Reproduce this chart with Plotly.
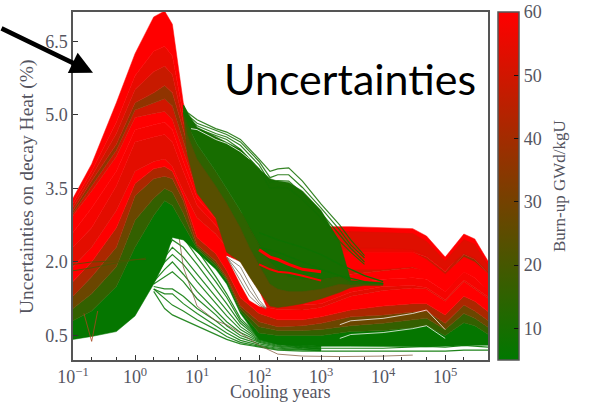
import plotly.graph_objects as go

# ---------------- data ----------------
years = [0.1,0.2,0.5,1,2,3,4,6,10,20,30,50,100,200,500,1000,3000,1e4,3e4,5e4,1e5,2e5,3e5,5e5]
s0  = [.42,.48,.58,.9,1.55,2.0,2.5,2.45,2.2,1.85,1.55,.95,.42,.32,.3,.28,.28,.27,.27,.27,.28,.3,.3,.3]
s1  = [.8,1.0,1.5,2.3,2.95,3.25,3.15,2.75,2.27,1.92,1.62,1.0,.55,.5,.5,.5,.58,.6,.66,.7,.5,.76,.7,.52]
s1b = [1.05,1.35,1.9,2.85,3.3,3.5,3.42,3.0,2.31,1.97,1.66,1.05,.68,.6,.6,.62,.7,.75,.82,.85,.62,.95,.85,.66]
s2  = [1.3,1.7,2.3,3.35,3.7,3.75,3.7,3.25,2.35,2.02,1.7,1.1,.78,.68,.7,.75,.88,.92,.98,1.0,.75,1.12,1.0,.8]
s2b = [1.6,2.0,2.7,3.6,3.9,3.95,3.85,3.35,2.5,2.17,1.82,1.27,.95,.82,.82,.88,1.02,1.1,1.15,1.15,.92,1.3,1.2,.98]
s3  = [1.9,2.3,3.05,3.85,4.05,4.1,3.95,3.45,2.9,2.57,2.3,1.6,1.1,1.03,1.02,1.07,1.3,1.42,1.47,1.45,1.2,1.6,1.45,1.25]
s4  = [2.3,2.7,3.55,4.45,4.55,4.6,4.45,3.85,3.15,2.75,2.45,1.8,1.25,1.12,1.12,1.15,1.38,1.5,1.52,1.48,1.23,1.63,1.48,1.28]
s4b = [2.6,3.1,3.85,4.7,4.8,4.85,4.7,4.05,3.3,2.88,2.58,1.95,1.42,1.3,1.3,1.35,1.55,1.65,1.68,1.65,1.4,1.8,1.68,1.42]
s5  = [2.95,3.45,4.15,4.95,5.03,5.07,4.9,4.25,3.45,3.0,2.7,2.1,1.6,1.5,1.55,1.65,1.75,1.82,1.88,1.82,1.58,1.98,1.88,1.58]
s5b = [3.0,3.55,4.28,5.1,5.25,5.33,5.18,4.48,3.58,3.1,2.8,2.22,1.8,1.68,1.7,1.78,1.92,1.98,2.0,1.92,1.65,2.08,1.97,1.68]
s6  = [3.05,3.65,4.4,5.25,5.45,5.6,5.45,4.7,3.7,3.2,2.9,2.35,2.0,1.85,1.85,1.9,2.1,2.1,2.1,2.0,1.7,2.15,2.05,1.75]
s6b = [3.12,3.75,4.62,5.52,5.88,6.0,5.82,4.85,3.85,3.3,3.0,2.48,2.15,2.02,2.02,2.08,2.2,2.2,2.2,2.1,1.8,2.25,2.15,1.8]
s7  = [3.2,3.85,4.85,5.8,6.3,6.4,6.2,5.0,4.0,3.4,3.1,2.6,2.3,2.2,2.2,2.25,2.3,2.3,2.3,2.2,1.9,2.35,2.25,1.85]
s8  = [3.3,4.0,5.25,6.25,7.0,7.12,6.85,5.25,4.2,3.6,3.3,3.0,2.85,2.8,2.75,2.72,2.72,2.7,2.68,2.53,2.1,2.57,2.47,2.0]
burnup_stack = [6,16,28,42,60,54,58,60,50,36,48,55,60]

plateau_years = [1000,3000,1e4,3e4,5e4,1e5,2e5,3e5,5e5]
plateau_low  = [1.85,1.85,1.85,1.9,1.8,1.4,1.8,1.7,1.4]
plateau_high = [2.2,2.2,2.2,2.2,2.05,1.75,2.1,2.0,1.75]
plateau_dark_low  = [2.28,2.28,2.28,2.25,2.12,1.85,2.18,2.08,1.8]
plateau_dark_high = [2.62,2.62,2.6,2.58,2.42,2.02,2.46,2.36,1.92]

hump_years = [6,7,10,20,30,50,70,100,150,200,300,500,1000,2000,3000,5000,1e4]
g_bot  = [5.0,4.2,3.4,2.9,2.2,2.0,1.7,1.4,1.1,1.07,1.1,1.15,1.25,1.38,1.48,1.52,1.52]
g_mid1 = [5.05,4.6,4.1,3.55,3.2,2.7,2.3,1.95,1.55,1.45,1.4,1.4,1.45,1.55,1.53,1.54,1.54]
g_mid2 = [5.1,4.8,4.4,3.85,3.5,3.05,2.7,2.35,2.0,1.85,1.7,1.65,1.65,1.7,1.58,1.57,1.56]
g_top  = [5.2,5.05,4.75,4.55,4.45,4.3,4.1,3.9,3.7,3.65,3.62,3.45,3.05,2.4,1.62,1.6,1.57]
burnup_hump = [24,15,10]

hole_years = [30,50,70,100,130]
hole_low  = [2.12,1.55,1.22,1.1,1.07]
hole_high = [2.12,2.0,1.7,1.4,1.08]
hole_lines = [[2.1,1.9,1.55,1.22,1.06],[2.1,1.75,1.42,1.16,1.05],[2.1,1.6,1.3,1.12,1.04]]

outer_years = [6,7,10,20,30,50,100,150,200,300,500,1000,2000,3000,5000]
outer_lines = [
    [5.2,5.05,4.9,4.72,4.65,4.5,4.1,3.85,3.9,3.92,3.65,3.18,2.75,2.45,2.13],
    [5.15,5.0,4.83,4.68,4.6,4.45,4.05,3.72,3.78,3.78,3.52,3.1,2.65,2.35,2.08],
    [5.1,4.95,4.78,4.62,4.55,4.38,3.98,3.62,3.66,3.65,3.4,3.0,2.55,2.28,2.0],
    [5.05,4.9,4.72,4.58,4.5,4.3,3.9,3.5,3.52,3.5,3.28,2.9,2.42,2.2,1.95],
]

low_years = [2,3,4,6,10,20,30,50,100,200,500,1000]
low_lines = [
    [1.4,1.05,.92,.82,.7,.52,.42,.33,.26,.2,.18,.18],
    [1.45,1.25,1.12,1.0,.82,.62,.48,.36,.28,.22,.2,.19],
    [1.45,1.35,1.35,1.15,.95,.7,.55,.4,.3,.24,.22,.2],
    [1.5,1.45,1.45,1.3,1.05,.8,.62,.45,.33,.26,.23,.22],
    [1.55,1.7,1.8,1.6,1.25,.92,.7,.5,.36,.28,.24,.22],
    [1.6,1.85,2.0,1.75,1.4,1.0,.78,.56,.38,.3,.25,.23],
    [1.65,2.0,2.15,1.95,1.6,1.15,.9,.62,.4,.32,.26,.24],
    [1.7,2.1,2.3,2.1,1.75,1.3,1.02,.68,.42,.33,.27,.25],
    [1.75,2.2,2.45,2.3,1.95,1.45,1.15,.75,.44,.34,.28,.26],
    [1.8,2.3,2.65,2.5,2.1,1.6,1.28,.8,.46,.35,.29,.27],
    [1.85,2.4,2.85,2.65,2.25,1.7,1.35,.85,.48,.36,.3,.28],
]
bottom_years = [1000,1e4,5e4,1e5,2e5,5e5]
bottom_lines = [[.18,.18,.18,.18,.2,.2],[.24,.24,.28,.26,.3,.26]]
brown_years = [5,6,10,20,30,50,100,200,500,2000,1e4,3e4]
brown_line = [2.6,1.9,1.1,.8,.72,.55,.3,.12,.08,.07,.08,.1]

streak_years = [100,150,200,300,500,1000]
streak_a = [2.25,2.1,2.05,1.95,1.85,1.8]
streak_b = [1.95,1.85,1.8,1.78,1.72,1.62]

tail_years = [100,200,500,1000,2000,5000,1e4]
tail_lines = [[2.6,2.45,2.3,2.15,1.95,1.72,1.6],[2.3,2.2,2.0,1.85,1.72,1.6,1.56]]

white_years = [2000,3000,1e4,3e4,5e4,1e5]
white_lines = [[.72,.8,.85,.95,1.02,.62],[.44,.52,.56,.64,.7,.44]]
white_hump_years = [8,10,20,30,50,70]
white_hump = [4.72,4.7,4.5,4.42,4.25,4.1]

cross_years = [.1,.2,.5,1,1.5]
cross_a = [1.95,2.0,2.02,2.05,2.05]
cross_b = [1.82,1.88,1.98,2.05,2.08]

spike_years = [.15,.2,.25]
spike = [.95,.38,1.0]

cbar_values = [5,60]
y_ticks = [.5,2,3.5,5,6.5]
y_labels = ["0.5","2.0","3.5","5.0","6.5"]
x_ticks = [.1,1,10,100,1e3,1e4,1e5]
x_labels = ["10<sup>−1</sup>","10<sup>0</sup>","10<sup>1</sup>","10<sup>2</sup>","10<sup>3</sup>","10<sup>4</sup>","10<sup>5</sup>"]
x_minor = [m*10**e for e in range(-1,6) for m in (2,5)]

# ---------------- style ----------------
SERIF = "Liberation Serif"
TXT = "#55555f"
def col(b, a=1):
    t = (b-5)/55
    return f"rgba({round(255*t)},{round(120*(1-t))},0,{a})"

fig = go.Figure()
def band(x, lo, hi, b, c=None):
    c = c or col(b)
    fig.add_trace(go.Scatter(x=x, y=lo, mode="lines", line=dict(color=c, width=.5), showlegend=False, hoverinfo="skip"))
    fig.add_trace(go.Scatter(x=x, y=hi, mode="lines", line=dict(color=c, width=.5), fill="tonexty", fillcolor=c, showlegend=False, hoverinfo="skip"))
def line(x, y, c, w=1.0):
    fig.add_trace(go.Scatter(x=x, y=y, mode="lines", line=dict(color=c, width=w), showlegend=False, hoverinfo="skip"))

# thin lines under the mass
for l in low_lines:
    line(low_years, l, col(6,.85), 1.2)
line(brown_years, brown_line, "rgba(130,90,60,.75)", 1)
for l in bottom_lines:
    line(bottom_years, l, col(6,.9), 1.2)

# main stack
stack = [s0,s1,s1b,s2,s2b,s3,s4,s4b,s5,s5b,s6,s6b,s7,s8]
for i, b in enumerate(burnup_stack):
    band(years, stack[i], stack[i+1], b)
band(plateau_years, plateau_low, plateau_high, 60)
band(plateau_years, plateau_dark_low, plateau_dark_high, 53)
line(cross_years, cross_a, col(22,.8), 1)
line(cross_years, cross_b, col(20,.8), 1)
line(spike_years, spike, "rgba(170,70,30,.8)", 1)
for l in white_lines:
    line(white_years, l, "rgba(255,255,255,.75)", 1)

# white gap and its few lines
band(hole_years, hole_low, hole_high, 5, "white")
for l in hole_lines:
    line(hole_years, l, "rgba(120,110,90,.8)", 1)

# low burn-up hump
for lo, hi, b in zip([g_bot,g_mid1,g_mid2],[g_mid1,g_mid2,g_top],burnup_hump):
    band(hump_years, lo, hi, b)
line(streak_years, streak_a, "#ff0000", 3)
line(streak_years, streak_b, "#ff0000", 2)
for l in tail_lines:
    line(tail_years, l, col(8), 1.3)
for l in outer_lines:
    line(outer_years, l, col(9,.85), 1.2)
line(white_hump_years, white_hump, "rgba(255,255,255,.8)", 1)

# colour bar
fig.add_trace(go.Scatter(x=[1,1], y=[-5,-5], mode="markers", showlegend=False, hoverinfo="skip",
    marker=dict(color=cbar_values, cmin=5, cmax=60,
        colorscale=[[0,col(5)],[1,col(60)]],
        colorbar=dict(x=1.024, xanchor="left", xpad=0, ypad=0, y=0, yanchor="bottom", len=1, thickness=21,
            outlinecolor="#555", outlinewidth=1.5, tickvals=[10,20,30,40,50,60],
            ticks="inside", ticklen=5, tickcolor="#111", tickfont=dict(family=SERIF, size=18, color=TXT)))))

axis = dict(showgrid=False, zeroline=False, showline=True, linecolor="#555", linewidth=1.5, mirror=True,
            ticks="inside", tickcolor="#333", ticklen=5, tickfont=dict(family=SERIF, size=18, color=TXT))
fig.update_layout(
    width=590, height=404, margin=dict(l=73, r=102, t=10, b=44),
    paper_bgcolor="white", plot_bgcolor="white",
    xaxis=dict(axis, type="log", range=[-1,5.69], tickmode="array", tickvals=x_ticks, ticktext=x_labels,
               minor=dict(tickmode="array", tickvals=x_minor, ticks="inside", ticklen=3, tickcolor="#333")),
    yaxis=dict(axis, range=[0,7.1], tickmode="array", tickvals=y_ticks, ticktext=y_labels),
)
def px(x,y): return (x-73)/415, (360-y)/350
def label(text, x, y, font, size, color="black", angle=0):
    xx, yy = px(x, y)
    fig.add_annotation(text=text, x=xx, y=yy, xref="paper", yref="paper", showarrow=False, xanchor="center", yanchor="middle",
                       textangle=angle, font=dict(family=font, size=size, color=color))
label("Uncertainties", 350, 77, "Lato", 43)
label("Cooling years", 280, 392, SERIF, 18, TXT)
label("Uncertainties on decay Heat (%)", 27, 186, SERIF, 19.5, TXT, -90)
label("Burn-up GWd/kgU", 559, 185, SERIF, 17, TXT, -90)
tx, ty = px(93, 71)
fig.add_annotation(text="", x=tx, y=ty, xref="paper", yref="paper", ax=-93, ay=-45, axref="pixel", ayref="pixel",
                   showarrow=True, arrowhead=2, arrowsize=1.0, arrowwidth=4.5, arrowcolor="black")

fig.write_html("out.html", config={"displayModeBar": False},
               post_script="document.body.style.margin='0';document.body.style.overflow='hidden';"
                           "var s=document.createElement('style');s.textContent='svg text{font-variant-ligatures:none}';document.head.appendChild(s);")
